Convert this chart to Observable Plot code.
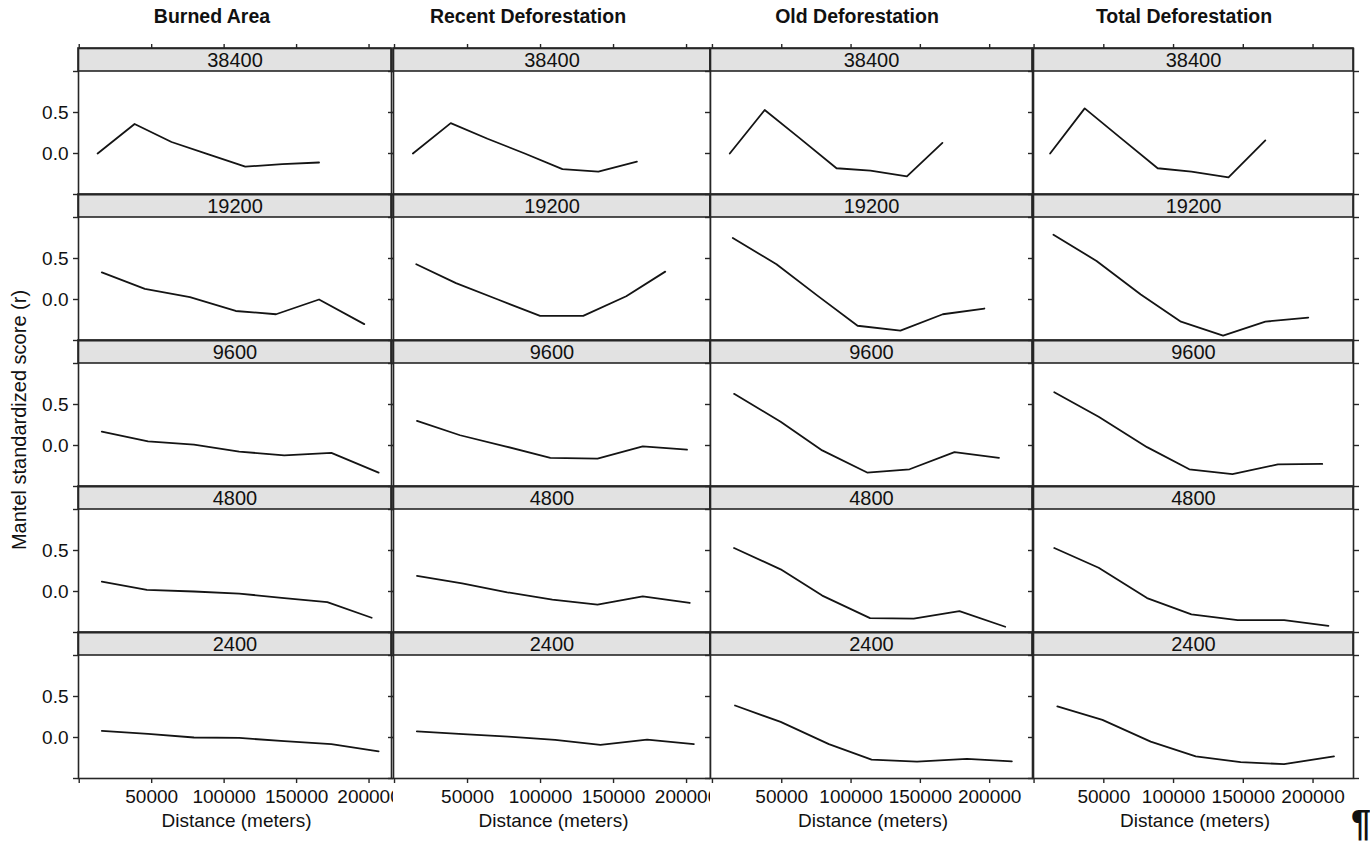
<!DOCTYPE html>
<html>
<head>
<meta charset="utf-8">
<script src="https://cdn.jsdelivr.net/npm/d3@7"></script>
<script src="https://cdn.jsdelivr.net/npm/@observablehq/plot@0.6"></script>
<style>
  html, body { margin: 0; padding: 0; background: #fff; }
  #chart { position: relative; width: 1370px; height: 843px; overflow: hidden;
           font-family: "Liberation Sans", Arial, sans-serif; color: #111; }
  .col { position: absolute; top: 0; }
  .hdr { position: absolute; top: 6px; font-weight: bold; font-size: 19.5px; line-height: 20px;
         white-space: nowrap; transform: translateX(-50%); }
  .xlab { position: absolute; top: 811px; font-size: 19px; line-height: 19px;
          white-space: nowrap; transform: translateX(-50%); }
  .ylab { position: absolute; left: 19px; top: 420px; font-size: 20px; line-height: 20px;
          white-space: nowrap; transform: translate(-50%, -50%) rotate(-90deg); }
  .pil { position: absolute; left: 1351px; top: 806px; font-size: 36px; line-height: 36px; font-weight: bold; }
</style>
</head>
<body>
<div id="chart"></div>
<script>
// ---------------- data ----------------
const variables = ["Burned Area", "Recent Deforestation", "Old Deforestation", "Total Deforestation"];
const scales = [38400, 19200, 9600, 4800, 2400];
const xTicks = [0, 50000, 100000, 150000, 200000];
const yTicks = [-0.5, 0, 0.5, 1];
const yTickLabels = ["", "0.0", "0.5", ""];
const xLabel = "Distance (meters)";
const yLabel = "Mantel standardized score (r)";

// distances (m) and Mantel r, one inner array per scale (38400, 19200, 9600, 4800, 2400)
const burnedDist = [
  [12700, 38200, 63700, 89200, 114600, 140100, 165500],
  [15600, 45300, 76400, 108000, 135800, 165500, 196700],
  [15600, 47500, 79200, 110400, 141500, 174000, 206600],
  [15600, 46700, 79200, 110400, 141500, 171200, 201800],
  [15600, 47500, 79200, 110400, 141500, 174000, 206600]
];
const burnedR = [
  [0.00, 0.36, 0.14, -0.01, -0.16, -0.13, -0.11],
  [0.33, 0.13, 0.03, -0.14, -0.18, 0.00, -0.30],
  [0.17, 0.05, 0.01, -0.075, -0.12, -0.09, -0.33],
  [0.12, 0.02, 0.00, -0.025, -0.08, -0.13, -0.32],
  [0.08, 0.045, 0.00, -0.005, -0.045, -0.08, -0.17]
];
const recentDist = [
  [12600, 38500, 63700, 89200, 115000, 139600, 166000],
  [14900, 42100, 70800, 99700, 129200, 158700, 185400],
  [15400, 44900, 75800, 106700, 139000, 170000, 200300],
  [15400, 46300, 77200, 108100, 139000, 170000, 202200],
  [15300, 47000, 78000, 110000, 141000, 173000, 205000]
];
const recentR = [
  [0.00, 0.37, 0.18, 0.00, -0.19, -0.22, -0.10],
  [0.43, 0.20, 0.00, -0.20, -0.20, 0.04, 0.34],
  [0.30, 0.125, -0.01, -0.15, -0.16, -0.01, -0.05],
  [0.19, 0.10, -0.01, -0.10, -0.16, -0.06, -0.14],
  [0.075, 0.04, 0.01, -0.03, -0.09, -0.025, -0.08]
];
const oldDist = [
  [12500, 37700, 62000, 89500, 114000, 140300, 165900],
  [14700, 46200, 75500, 104700, 135600, 166200, 196200],
  [15600, 49200, 79200, 111600, 142200, 174600, 206700],
  [15600, 49200, 79200, 113700, 145200, 178200, 211200],
  [16300, 49200, 84000, 114800, 147600, 183600, 216000]
];
const oldR = [
  [0.00, 0.53, 0.20, -0.18, -0.21, -0.28, 0.13],
  [0.75, 0.43, 0.05, -0.32, -0.38, -0.18, -0.11],
  [0.63, 0.29, -0.06, -0.33, -0.29, -0.08, -0.15],
  [0.53, 0.27, -0.05, -0.325, -0.33, -0.24, -0.43],
  [0.39, 0.19, -0.08, -0.27, -0.295, -0.26, -0.29]
];
const totalDist = [
  [11500, 36300, 62000, 88600, 112800, 139400, 165800],
  [13900, 44800, 76500, 105300, 135500, 165800, 196600],
  [14500, 46300, 81000, 111300, 142200, 174800, 206600],
  [14500, 46300, 81000, 112800, 146000, 179300, 211000],
  [16700, 49000, 83600, 115900, 148100, 179200, 215000]
];
const totalR = [
  [0.00, 0.55, 0.19, -0.18, -0.22, -0.29, 0.16],
  [0.79, 0.47, 0.06, -0.27, -0.44, -0.27, -0.22],
  [0.65, 0.35, -0.02, -0.29, -0.35, -0.23, -0.225],
  [0.53, 0.29, -0.08, -0.28, -0.35, -0.35, -0.42],
  [0.38, 0.215, -0.05, -0.23, -0.30, -0.325, -0.23]
];

// ---------------- layout / style ----------------
const FONT = '"Liberation Sans", Arial, sans-serif';
const frameLeft  = [78, 393, 710, 1033];
const frameRight = [391, 710, 1032, 1353];
const headerCenter = [212, 528, 857, 1184];
const xDomains = [[-500, 215500], [-700, 216400], [-1400, 230900], [-400, 229000]];
const panelBottom = -0.5, panelTop = 1.0;
const stripTop = panelTop + 23 / 82;   // strip is 23px over a 123px panel of 1.5 units
const frameColor = "#262626";
const stripFill = "#e2e2e2";

const distByVar = [burnedDist, recentDist, oldDist, totalDist];
const rByVar = [burnedR, recentR, oldR, totalR];

const chart = document.getElementById("chart");

variables.forEach((name, c) => {
  const rows = [];
  scales.forEach((s, i) => {
    distByVar[c][i].forEach((d, j) => rows.push({scale: s, d, r: rByVar[c][i][j]}));
  });
  const w = frameRight[c] - frameLeft[c];
  const fmtY = c === 0 ? (v => yTickLabels[yTicks.indexOf(v)] ?? "") : (() => "");
  const plot = Plot.plot({
    width: w,
    height: 843,
    marginTop: 48,
    marginBottom: 65,
    marginLeft: 0,
    marginRight: 0,
    style: {background: "white", overflow: "visible", fontFamily: FONT, fontSize: "19px", color: frameColor},
    x: {domain: xDomains[c]},
    y: {domain: [panelBottom, stripTop]},
    fy: {domain: scales, padding: 0, axis: null},
    marks: [
      Plot.rect(scales, {fy: d => d, y1: panelTop, y2: stripTop, fill: stripFill, stroke: frameColor, strokeWidth: 1.6}),
      Plot.text(scales, {fy: d => d, y: (panelTop + stripTop) / 2, text: d => String(d),
                         fontSize: 20, fill: "#111", dy: 1}),
      Plot.line(rows, {x: "d", y: "r", fy: "scale", stroke: "#141414", strokeWidth: 1.8}),
      Plot.frame({stroke: frameColor, strokeWidth: 1.6}),
      Plot.axisX({anchor: "top", ticks: xTicks, tickSize: 5, tickFormat: () => "", label: null, strokeWidth: 1.4}),
      Plot.axisX({anchor: "bottom", ticks: xTicks, tickSize: 5, tickPadding: 6,
                  tickFormat: d => d === 0 ? "" : String(d), label: null, strokeWidth: 1.4,
                  fontSize: 19, fill: "#111"}),
      Plot.axisY({anchor: "left", ticks: yTicks, tickSize: 5, tickPadding: 5, tickFormat: fmtY,
                  label: null, strokeWidth: 1.4, fontSize: 19, fill: "#111"}),
      Plot.axisY({anchor: "right", ticks: yTicks, tickSize: 5, tickFormat: () => "", label: null, strokeWidth: 1.4})
    ]
  });
  const holder = document.createElement("div");
  holder.className = "col";
  holder.style.left = frameLeft[c] + "px";
  holder.appendChild(plot);
  chart.appendChild(holder);
});

variables.forEach((name, c) => {
  const h = document.createElement("div");
  h.className = "hdr";
  h.style.left = headerCenter[c] + "px";
  h.textContent = name;
  chart.appendChild(h);
  const xl = document.createElement("div");
  xl.className = "xlab";
  xl.style.left = ((frameLeft[c] + frameRight[c]) / 2 + 2) + "px";
  xl.textContent = xLabel;
  chart.appendChild(xl);
});

const yl = document.createElement("div");
yl.className = "ylab";
yl.textContent = yLabel;
chart.appendChild(yl);

const pil = document.createElement("div");
pil.className = "pil";
pil.textContent = "¶";
chart.appendChild(pil);
</script>
</body>
</html>
